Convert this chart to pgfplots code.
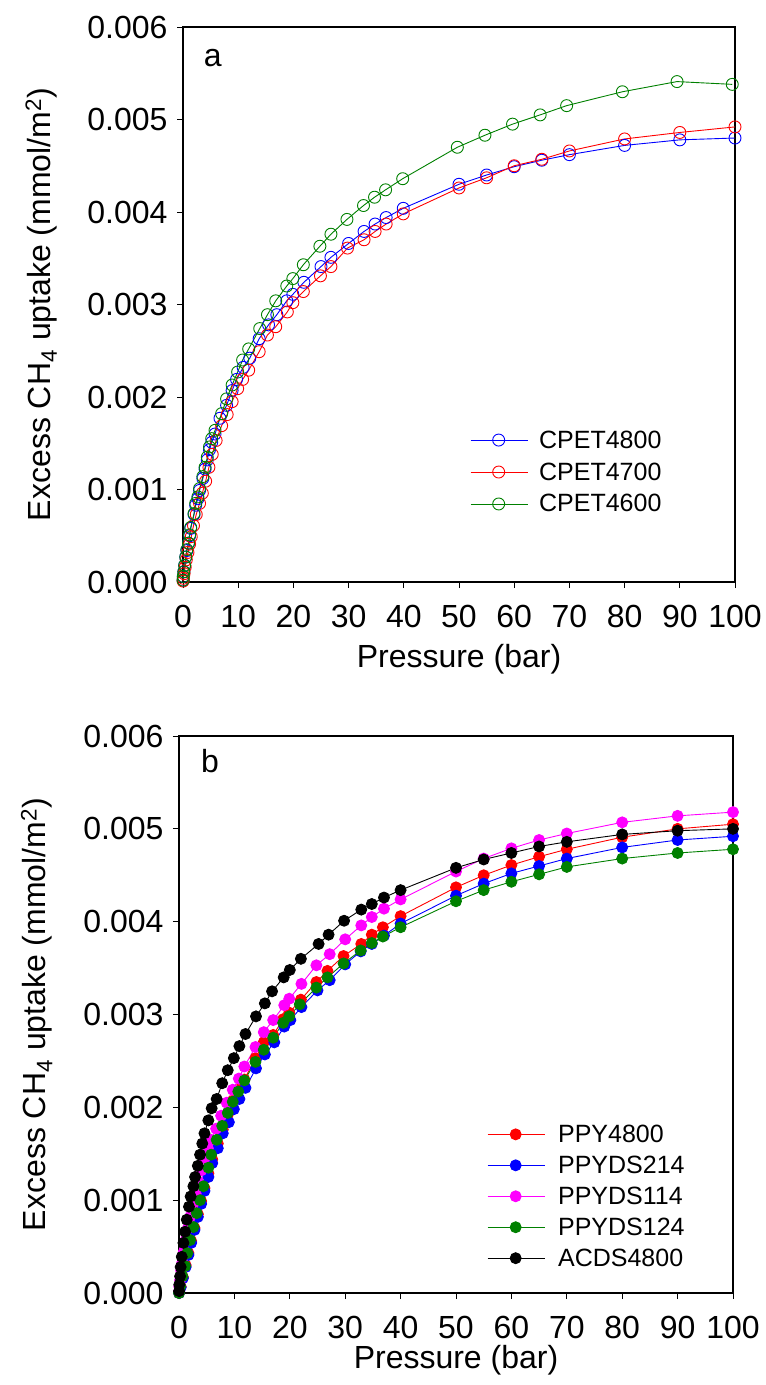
\documentclass[border=0pt]{standalone}
\usepackage{fontspec}
\setmainfont{Liberation Sans}
\usepackage{pgfplots}
\usepackage{pgfplotstable}
\pgfplotsset{compat=1.18}
\definecolor{cgreen}{RGB}{0,128,0}
\definecolor{cmag}{RGB}{255,0,255}

% values in units of 0.001 mmol/m^2
\pgfplotstableread{
p v
0.02 0.02
0.05 0.06
0.15 0.11
0.3 0.18
0.5 0.27
0.7 0.34
1.0 0.42
1.2 0.50
1.4 0.58
2.0 0.73
2.3 0.83
2.7 0.90
3.0 0.99
3.6 1.12
4.0 1.22
4.4 1.32
4.8 1.43
5.2 1.51
5.8 1.60
6.7 1.77
7.9 1.91
8.9 2.07
9.7 2.19
10.9 2.32
12.1 2.42
13.8 2.63
15.5 2.78
17.0 2.89
18.8 3.04
19.9 3.11
21.9 3.24
25.0 3.41
26.8 3.51
30.0 3.66
32.8 3.79
34.8 3.87
36.8 3.94
39.9 4.04
50 4.30
55 4.40
60 4.49
65 4.56
70 4.62
80 4.72
90 4.78
100 4.80
}\cpetA
\pgfplotstableread{
p v
0.02 0.01
0.05 0.04
0.2 0.09
0.4 0.16
0.6 0.24
0.9 0.32
1.2 0.41
1.5 0.49
1.9 0.61
2.4 0.73
3.0 0.85
3.5 0.96
4.1 1.09
4.7 1.24
5.3 1.38
6.0 1.53
7.0 1.69
8.0 1.81
8.9 1.95
9.9 2.09
10.8 2.19
11.9 2.29
13.8 2.49
15.3 2.67
16.8 2.76
18.9 2.92
19.9 3.02
21.8 3.14
24.9 3.31
26.8 3.41
29.8 3.61
32.8 3.70
34.8 3.79
36.8 3.87
39.9 3.98
50 4.26
55 4.37
60 4.50
65 4.57
70 4.66
80 4.79
90 4.86
100 4.92
}\cpetB
\pgfplotstableread{
p v
0.02 0.02
0.05 0.06
0.15 0.11
0.3 0.18
0.5 0.27
0.7 0.35
1.0 0.42
1.2 0.51
1.4 0.59
2.0 0.74
2.3 0.85
2.7 0.92
3.0 1.01
3.6 1.14
4.0 1.24
4.4 1.35
4.8 1.46
5.2 1.55
5.8 1.64
7.0 1.82
7.9 1.98
8.9 2.13
9.9 2.27
10.8 2.40
11.9 2.52
13.9 2.74
15.3 2.89
16.8 3.04
18.8 3.20
19.9 3.28
21.8 3.43
24.8 3.63
26.8 3.76
29.7 3.92
32.7 4.07
34.7 4.16
36.7 4.24
39.8 4.36
49.7 4.70
54.7 4.83
59.7 4.95
64.7 5.05
69.5 5.15
79.6 5.30
89.5 5.41
99.5 5.38
}\cpetC

\pgfplotstableread{
p v
0.01 0.00
0.3 0.07
0.7 0.17
1.2 0.30
1.7 0.43
2.2 0.56
2.8 0.70
3.4 0.85
4.0 0.99
4.6 1.13
5.3 1.29
6.0 1.44
7.0 1.61
7.9 1.76
8.8 1.92
9.7 2.07
10.7 2.19
11.8 2.30
13.8 2.53
15.3 2.70
17.0 2.78
18.8 2.95
19.9 3.02
22.0 3.16
24.8 3.35
26.8 3.47
29.7 3.63
32.9 3.76
34.8 3.86
36.8 3.94
40 4.06
50 4.37
55 4.50
60 4.61
65 4.70
70 4.78
80 4.91
90 5.00
100 5.05
}\ppyA
\pgfplotstableread{
p v
0.01 0.00
0.3 0.06
0.7 0.16
1.2 0.28
1.7 0.41
2.2 0.54
2.8 0.68
3.4 0.82
4.0 0.96
4.6 1.10
5.3 1.25
6.0 1.40
7.0 1.56
7.9 1.72
9.0 1.84
9.9 1.98
10.9 2.09
12.0 2.21
13.9 2.42
15.5 2.57
17.2 2.70
19.0 2.87
20.1 2.94
22.1 3.08
25.0 3.26
27.2 3.37
30.0 3.54
32.8 3.68
34.8 3.76
37.0 3.85
40 3.98
50 4.28
55 4.41
60 4.52
65 4.60
70 4.68
80 4.80
90 4.88
100 4.92
}\ppyB
\pgfplotstableread{
p v
0.01 0.02
0.05 0.07
0.2 0.14
0.4 0.24
0.6 0.33
0.9 0.45
1.2 0.57
1.6 0.70
2.0 0.82
2.5 0.95
3.0 1.07
3.5 1.20
4.0 1.32
4.6 1.45
5.2 1.56
5.8 1.65
6.7 1.77
7.6 1.91
8.6 2.05
9.7 2.19
10.8 2.31
11.8 2.44
13.8 2.65
15.3 2.81
17.0 2.94
19.0 3.10
19.9 3.17
22.1 3.33
24.8 3.53
27.2 3.65
30.0 3.81
32.9 3.96
34.8 4.05
37.0 4.14
40.0 4.24
50 4.54
55 4.68
60 4.79
65 4.88
70 4.95
80 5.07
90 5.14
100 5.18
}\ppyC
\pgfplotstableread{
p v
0.01 0.00
0.2 0.07
0.6 0.18
1.1 0.29
1.5 0.43
2.0 0.57
2.6 0.71
3.2 0.86
3.8 1.00
4.4 1.15
5.3 1.35
5.8 1.49
6.8 1.65
7.8 1.80
8.8 1.94
9.7 2.06
10.7 2.17
11.8 2.29
13.8 2.49
15.3 2.62
17.0 2.75
18.8 2.91
19.9 2.98
21.8 3.11
24.8 3.29
26.8 3.40
29.7 3.55
32.8 3.69
34.8 3.77
36.8 3.84
40 3.94
50 4.22
55 4.34
60 4.43
65 4.51
70 4.59
80 4.68
90 4.74
100 4.78
}\ppyD
\pgfplotstableread{
p v
0.01 0.02
0.05 0.09
0.2 0.18
0.3 0.28
0.5 0.39
0.8 0.54
1.1 0.66
1.4 0.79
1.8 0.93
2.1 1.04
2.6 1.15
2.9 1.25
3.4 1.37
3.8 1.49
4.2 1.61
4.6 1.72
5.3 1.86
5.9 1.99
6.8 2.09
7.8 2.26
8.8 2.40
9.9 2.53
10.9 2.66
12.0 2.79
13.9 2.98
15.5 3.12
16.8 3.25
18.9 3.40
20.0 3.48
22.0 3.60
25.2 3.76
27.0 3.86
29.8 4.01
32.9 4.13
34.8 4.19
37.0 4.26
40.0 4.34
50 4.58
55 4.67
60 4.74
65 4.81
70 4.86
80 4.94
90 4.98
100 5.00
}\acds

\pgfplotsset{
  myax/.style={
    scale only axis, width=552pt, height=555pt,
    xmin=0, xmax=100, ymin=0, ymax=6,
    xtick={0,10,...,100},
    ytick={0,1,2,3,4,5,6},
    yticklabels={0.000,0.001,0.002,0.003,0.004,0.005,0.006},
    tick align=outside, tick pos=left,
    major tick length=6pt,
    every tick/.style={black, line width=1pt},
    axis line style={line width=1.2pt},
    /pgf/number format/assume math mode=true,
    ticklabel style={font=\fontsize{32}{38}\selectfont},
    xticklabel style={yshift=-14pt},
    yticklabel style={xshift=-6pt},
    label style={font=\fontsize{32}{38}\selectfont},
    xlabel={Pressure (bar)},
    ylabel={Excess CH\textsubscript{4} uptake (mmol/m\textsuperscript{2})},
    ylabel style={at={(axis description cs:-0.257,0.5)}, anchor=center},
    clip=false,
    legend cell align=left,
    legend image code/.code={\draw[mark repeat=2,mark phase=2,#1] plot coordinates {(0pt,0pt) (28pt,0pt) (57pt,0pt)};},
  },
  ca/.style={color=#1, line width=0.9pt, mark=o, mark size=6pt, mark options={line width=0.9pt, fill=none}},
  cb/.style={color=#1, line width=0.9pt, mark=*, mark size=5.5pt, mark options={fill=#1, draw=#1}},
}

\begin{document}
\begin{tikzpicture}
\path[use as bounding box] (0,0) rectangle (766pt,-1385pt);

\begin{axis}[myax, at={(183pt,-582pt)}, anchor=south west,
  xlabel style={at={(axis description cs:0.5,-0.14)}, anchor=center},
  legend style={at={(0.52,0.275)}, anchor=north west, draw=none, fill=none,
    font=\fontsize{25}{30}\selectfont, inner sep=0pt, row sep=11pt, column sep=10pt,
    nodes={inner sep=1pt}}]
\addplot[ca=blue] table[x=p,y=v] {\cpetA};
\addlegendentry{CPET4800}
\addplot[ca=red] table[x=p,y=v] {\cpetB};
\addlegendentry{CPET4700}
\addplot[ca=cgreen] table[x=p,y=v] {\cpetC};
\addlegendentry{CPET4600}
\node[font=\fontsize{32}{38}\selectfont] at (rel axis cs:0.054,0.944) {a};
\end{axis}

\begin{axis}[myax, at={(179pt,-1293pt)}, anchor=south west, width=554pt, height=557pt,
  xlabel style={at={(axis description cs:0.5,-0.12)}, anchor=center},
  legend style={at={(0.556,0.304)}, anchor=north west, draw=none, fill=none,
    font=\fontsize{25}{30}\selectfont, inner sep=0pt, row sep=10pt, column sep=12pt,
    nodes={inner sep=1pt}}]
\addplot[cb=red] table[x=p,y=v] {\ppyA};
\addlegendentry{PPY4800}
\addplot[cb=blue] table[x=p,y=v] {\ppyB};
\addlegendentry{PPYDS214}
\addplot[cb=cmag] table[x=p,y=v] {\ppyC};
\addlegendentry{PPYDS114}
\addplot[cb=cgreen] table[x=p,y=v] {\ppyD};
\addlegendentry{PPYDS124}
\addplot[cb=black] table[x=p,y=v] {\acds};
\addlegendentry{ACDS4800}
\node[font=\fontsize{32}{38}\selectfont] at (rel axis cs:0.056,0.955) {b};
\end{axis}
\end{tikzpicture}
\end{document}
